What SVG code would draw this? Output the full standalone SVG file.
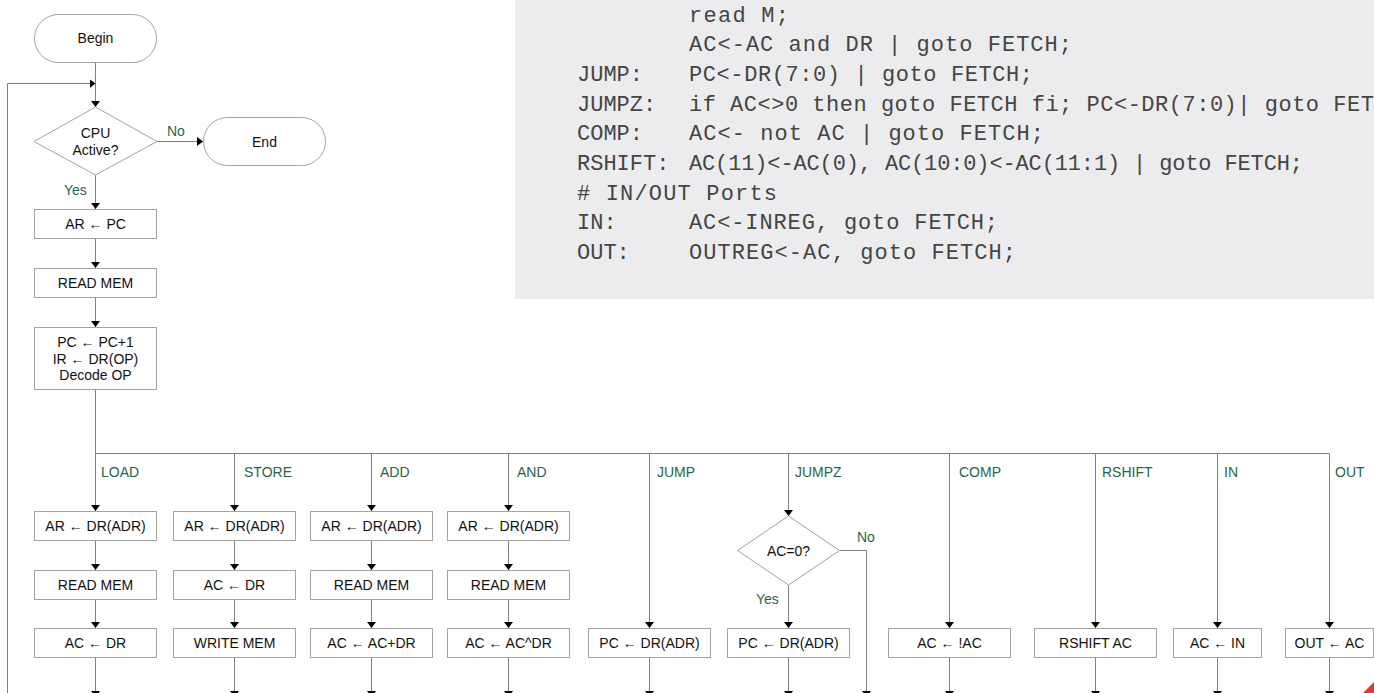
<svg xmlns="http://www.w3.org/2000/svg" width="1374" height="693" viewBox="0 0 1374 693">
<defs>
<style>
.box{fill:#fff;stroke:#a3a3a3;stroke-width:1}
.t{font-family:"Liberation Sans",Arial,sans-serif;font-size:14px;fill:#111;text-anchor:middle}
.lbl{font-family:"Liberation Sans",Arial,sans-serif;font-size:14px;fill:#2b6446}
.wire{fill:none;stroke:#808080;stroke-width:1}
.arr{marker-end:url(#ah)}
.code{font-family:"Liberation Mono","Courier New",monospace;font-size:22px;fill:#454545}
</style>
<marker id="ah" markerUnits="userSpaceOnUse" viewBox="0 0 6 9" refX="6" refY="4.5" markerWidth="6" markerHeight="9" orient="auto"><path d="M0,0 L6,4.5 L0,9 Z" fill="#000"/></marker>
</defs>
<rect width="1374" height="693" fill="#fff"/>

<!-- microcode listing panel -->
<g id="code-panel">
<rect x="515" y="0" width="859" height="299" fill="#ececee"/>
<text class="code" x="689" y="21.5" textLength="100" lengthAdjust="spacing">read M;</text>
<text class="code" x="689" y="51.2" textLength="383" lengthAdjust="spacing">AC&lt;-AC and DR | goto FETCH;</text>
<text class="code" x="577" y="80.9">JUMP:</text>
<text class="code" x="689" y="80.9" textLength="344" lengthAdjust="spacing">PC&lt;-DR(7:0) | goto FETCH;</text>
<text class="code" x="577" y="110.6">JUMPZ:</text>
<text class="code" x="689" y="110.6" textLength="726" lengthAdjust="spacing">if AC&lt;&gt;0 then goto FETCH fi; PC&lt;-DR(7:0)| goto FETCH;</text>
<text class="code" x="577" y="140.3">COMP:</text>
<text class="code" x="689" y="140.3" textLength="355" lengthAdjust="spacing">AC&lt;- not AC | goto FETCH;</text>
<text class="code" x="577" y="170">RSHIFT:</text>
<text class="code" x="689" y="170" textLength="614" lengthAdjust="spacing">AC(11)&lt;-AC(0), AC(10:0)&lt;-AC(11:1) | goto FETCH;</text>
<text class="code" x="577" y="199.7" textLength="200" lengthAdjust="spacing"># IN/OUT Ports</text>
<text class="code" x="577" y="229.4">IN:</text>
<text class="code" x="689" y="229.4" textLength="309" lengthAdjust="spacing">AC&lt;-INREG, goto FETCH;</text>
<text class="code" x="577" y="259.1">OUT:</text>
<text class="code" x="689" y="259.1" textLength="327" lengthAdjust="spacing">OUTREG&lt;-AC, goto FETCH;</text>
</g>

<!-- connectors -->
<g id="connectors">
<path class="wire arr" d="M95.5,62.5 V107"/>
<path class="wire arr" d="M7.5,693 V83.5 H95.5"/>
<path class="wire arr" d="M157,141.5 H203"/>
<path class="wire arr" d="M95.5,175 V209"/>
<path class="wire arr" d="M95.5,238.5 V268"/>
<path class="wire arr" d="M95.5,297.5 V327"/>
<path class="wire" d="M95.5,389.5 V453.5 H1329.5"/>
<!-- opcode branches -->
<path class="wire arr" d="M95.5,453.5 V511"/>
<path class="wire arr" d="M234.5,453.5 V511"/>
<path class="wire arr" d="M371.5,453.5 V511"/>
<path class="wire arr" d="M508.5,453.5 V511"/>
<path class="wire arr" d="M649.5,453.5 V628"/>
<path class="wire arr" d="M788.5,453.5 V516"/>
<path class="wire arr" d="M949.5,453.5 V628"/>
<path class="wire arr" d="M1095.5,453.5 V628"/>
<path class="wire arr" d="M1217.5,453.5 V628"/>
<path class="wire arr" d="M1329.5,453.5 V628"/>
<!-- row 1 to row 2 -->
<path class="wire arr" d="M95.5,540.5 V570"/>
<path class="wire arr" d="M234.5,540.5 V570"/>
<path class="wire arr" d="M371.5,540.5 V570"/>
<path class="wire arr" d="M508.5,540.5 V570"/>
<!-- row 2 to row 3 -->
<path class="wire arr" d="M95.5,599.5 V628"/>
<path class="wire arr" d="M234.5,599.5 V628"/>
<path class="wire arr" d="M371.5,599.5 V628"/>
<path class="wire arr" d="M508.5,599.5 V628"/>
<path class="wire arr" d="M788.5,585 V628"/>
<path class="wire arr" d="M839.5,550.5 H866.5 V697"/>
<!-- exits back to fetch -->
<path class="wire arr" d="M95.5,657.5 V697"/>
<path class="wire arr" d="M234.5,657.5 V697"/>
<path class="wire arr" d="M371.5,657.5 V697"/>
<path class="wire arr" d="M508.5,657.5 V697"/>
<path class="wire arr" d="M649.5,657.5 V697"/>
<path class="wire arr" d="M788.5,657.5 V697"/>
<path class="wire arr" d="M949.5,657.5 V697"/>
<path class="wire arr" d="M1095.5,657.5 V697"/>
<path class="wire arr" d="M1217.5,657.5 V697"/>
<path class="wire arr" d="M1329.5,657.5 V697"/>
<!-- labels -->
<text class="lbl" x="167" y="136">No</text>
<text class="lbl" x="64" y="195">Yes</text>
<text class="lbl" x="101" y="477">LOAD</text>
<text class="lbl" x="244" y="477">STORE</text>
<text class="lbl" x="380" y="477">ADD</text>
<text class="lbl" x="517" y="477">AND</text>
<text class="lbl" x="657" y="477">JUMP</text>
<text class="lbl" x="795" y="477">JUMPZ</text>
<text class="lbl" x="959" y="477">COMP</text>
<text class="lbl" x="1102" y="477">RSHIFT</text>
<text class="lbl" x="1224" y="477">IN</text>
<text class="lbl" x="1335" y="477">OUT</text>
<text class="lbl" x="857" y="542">No</text>
<text class="lbl" x="756" y="604">Yes</text>
</g>

<!-- fetch cycle -->
<g id="begin"><rect class="box" x="34.5" y="14.5" width="122" height="48" rx="24"/><text class="t" x="95.5" y="43">Begin</text></g>
<g id="cpu-active"><polygon class="box" points="95.5,107 157,141.5 95.5,175 34,141.5"/><text class="t" x="95.5" y="138">CPU</text><text class="t" x="95.5" y="155">Active?</text></g>
<g id="end"><rect class="box" x="203.5" y="117.5" width="122" height="48" rx="24"/><text class="t" x="264.5" y="146.5">End</text></g>
<g id="fetch-ar"><rect class="box" x="34.5" y="209.5" width="122" height="29"/><text class="t" x="95.5" y="228.5">AR ← PC</text></g>
<g id="fetch-read"><rect class="box" x="34.5" y="268.5" width="122" height="29"/><text class="t" x="95.5" y="287.5">READ MEM</text></g>
<g id="decode"><rect class="box" x="34.5" y="327.5" width="122" height="62"/><text class="t" x="95.5" y="347">PC ← PC+1</text><text class="t" x="95.5" y="363.5">IR ← DR(OP)</text><text class="t" x="95.5" y="379.5">Decode OP</text></g>

<!-- LOAD -->
<g id="load-1"><rect class="box" x="34.5" y="511.5" width="122" height="29"/><text class="t" x="95.5" y="530.5">AR ← DR(ADR)</text></g>
<g id="load-2"><rect class="box" x="34.5" y="570.5" width="122" height="29"/><text class="t" x="95.5" y="589.5">READ MEM</text></g>
<g id="load-3"><rect class="box" x="34.5" y="628.5" width="122" height="29"/><text class="t" x="95.5" y="648">AC ← DR</text></g>
<!-- STORE -->
<g id="store-1"><rect class="box" x="173.5" y="511.5" width="122" height="29"/><text class="t" x="234.5" y="530.5">AR ← DR(ADR)</text></g>
<g id="store-2"><rect class="box" x="173.5" y="570.5" width="122" height="29"/><text class="t" x="234.5" y="589.5">AC ← DR</text></g>
<g id="store-3"><rect class="box" x="173.5" y="628.5" width="122" height="29"/><text class="t" x="234.5" y="648">WRITE MEM</text></g>
<!-- ADD -->
<g id="add-1"><rect class="box" x="310.5" y="511.5" width="122" height="29"/><text class="t" x="371.5" y="530.5">AR ← DR(ADR)</text></g>
<g id="add-2"><rect class="box" x="310.5" y="570.5" width="122" height="29"/><text class="t" x="371.5" y="589.5">READ MEM</text></g>
<g id="add-3"><rect class="box" x="310.5" y="628.5" width="122" height="29"/><text class="t" x="371.5" y="648">AC ← AC+DR</text></g>
<!-- AND -->
<g id="and-1"><rect class="box" x="447.5" y="511.5" width="122" height="29"/><text class="t" x="508.5" y="530.5">AR ← DR(ADR)</text></g>
<g id="and-2"><rect class="box" x="447.5" y="570.5" width="122" height="29"/><text class="t" x="508.5" y="589.5">READ MEM</text></g>
<g id="and-3"><rect class="box" x="447.5" y="628.5" width="122" height="29"/><text class="t" x="508.5" y="648">AC ← AC^DR</text></g>
<!-- JUMP -->
<g id="jump-1"><rect class="box" x="588.5" y="628.5" width="122" height="29"/><text class="t" x="649.5" y="648">PC ← DR(ADR)</text></g>
<!-- JUMPZ -->
<g id="jumpz-test"><polygon class="box" points="788.5,516 839.5,550.5 788.5,585 737.5,550.5"/><text class="t" x="788.5" y="555.5">AC=0?</text></g>
<g id="jumpz-1"><rect class="box" x="727.5" y="628.5" width="122" height="29"/><text class="t" x="788.5" y="648">PC ← DR(ADR)</text></g>
<!-- COMP / RSHIFT / IN / OUT -->
<g id="comp-1"><rect class="box" x="888.5" y="628.5" width="122" height="29"/><text class="t" x="949.5" y="648">AC ← !AC</text></g>
<g id="rshift-1"><rect class="box" x="1034.5" y="628.5" width="122" height="29"/><text class="t" x="1095.5" y="648">RSHIFT AC</text></g>
<g id="in-1"><rect class="box" x="1173.5" y="628.5" width="88" height="29"/><text class="t" x="1217.5" y="648">AC ← IN</text></g>
<g id="out-1"><rect class="box" x="1285.5" y="628.5" width="88" height="29"/><text class="t" x="1329.5" y="648">OUT ← AC</text></g>

<polygon points="1363,693 1374,693 1374,682" fill="#e2382f"/>
</svg>
